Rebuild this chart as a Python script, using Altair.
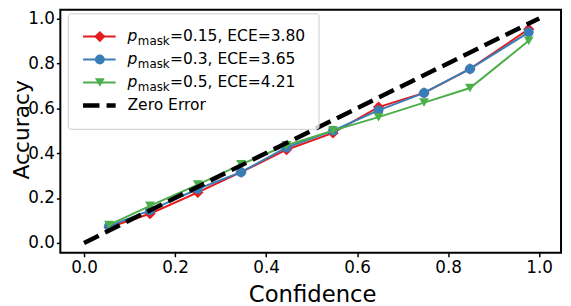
import altair as alt
import pandas as pd

# ---- data ----
conf = [0.055, 0.145, 0.25, 0.345, 0.445, 0.547, 0.647, 0.747, 0.848, 0.977]
acc_red = [0.07, 0.13, 0.225, 0.315, 0.415, 0.49, 0.605, 0.668, 0.775, 0.952]
acc_blue = [0.075, 0.145, 0.24, 0.315, 0.425, 0.50, 0.59, 0.668, 0.775, 0.938]
acc_green = [0.08, 0.165, 0.26, 0.35, 0.435, 0.50, 0.56, 0.625, 0.69, 0.90]
p_mask = ["0.15", "0.3", "0.5"]
ece = ["3.80", "3.65", "4.21"]
zero_conf = [0.0, 1.0]
zero_acc = [0.0, 1.0]
ticks = [0.0, 0.2, 0.4, 0.6, 0.8, 1.0]

colors = ["#e41a1c", "#377eb8", "#4daf4a"]
shapes = ["diamond", "circle", "triangle-down"]
sizes = [130, 100, 100]
FONT = "DejaVu Sans"

x_enc = alt.X(
    "conf:Q",
    scale=alt.Scale(domain=[-0.052, 1.048], nice=False, zero=False),
    axis=alt.Axis(
        values=ticks, format=".1f", title="Confidence", grid=False, domain=False,
        tickSize=4, tickWidth=1.5, tickColor="black",
        labelFontSize=17, labelColor="black", labelFont=FONT, labelPadding=3,
        titleFontSize=23, titleFont=FONT, titleColor="black", titleFontWeight="normal",
        titleX=255, titleY=49, titleBaseline="alphabetic", titleAlign="center",
    ),
)
y_enc = alt.Y(
    "acc:Q",
    scale=alt.Scale(domain=[-0.044, 1.038], nice=False, zero=False),
    axis=alt.Axis(
        values=ticks, format=".1f", title="Accuracy", grid=False, domain=False,
        tickSize=4, tickWidth=1.5, tickColor="black",
        labelFontSize=17, labelColor="black", labelFont=FONT, labelPadding=2,
        titleFontSize=22, titleFont=FONT, titleColor="black", titleFontWeight="normal",
        titleX=-32.5, titleY=121, titleAngle=-90, titleBaseline="alphabetic",
        titleAlign="center",
    ),
)

layers = []
for accs, col, shp, sz in zip([acc_red, acc_blue, acc_green], colors, shapes, sizes):
    df = pd.DataFrame({"conf": conf, "acc": accs})
    base = alt.Chart(df)
    layers.append(base.mark_line(color=col, strokeWidth=2).encode(x=x_enc, y=y_enc))
    layers.append(
        base.mark_point(shape=shp, filled=True, size=sz, color=col, opacity=1)
        .encode(x=x_enc, y=y_enc)
    )

zero_df = pd.DataFrame({"conf": zero_conf, "acc": zero_acc})
layers.append(
    alt.Chart(zero_df)
    .mark_line(color="black", strokeWidth=4.5, strokeDash=[16.6, 7.2], strokeCap="butt")
    .encode(x=x_enc, y=y_enc)
)

# ---- legend (drawn manually to allow the subscript) ----
one = alt.Data(values=[{"k": 0}])
layers.append(
    alt.Chart(one)
    .mark_rect(fill="white", fillOpacity=0.8, stroke="#cccccc", strokeWidth=1, cornerRadius=3)
    .encode(x=alt.value(8), x2=alt.value(262), y=alt.value(4), y2=alt.value(121))
)
row_y = [27, 50.3, 73.6, 96.9]
for i in range(3):
    yc = row_y[i]
    layers.append(
        alt.Chart(one).mark_rule(color=colors[i], strokeWidth=2)
        .encode(x=alt.value(23), x2=alt.value(56), y=alt.value(yc))
    )
    layers.append(
        alt.Chart(one).mark_point(shape=shapes[i], filled=True, size=sizes[i], color=colors[i], opacity=1)
        .encode(x=alt.value(40), y=alt.value(yc))
    )
    layers.append(
        alt.Chart(one).mark_text(text="p", fontStyle="italic", fontSize=15.7, font=FONT,
                                 align="left", baseline="alphabetic", color="black")
        .encode(x=alt.value(68), y=alt.value(yc + 5))
    )
    layers.append(
        alt.Chart(one).mark_text(text="mask", fontSize=12, font=FONT,
                                 align="left", baseline="alphabetic", color="black")
        .encode(x=alt.value(78.5), y=alt.value(yc + 8.5))
    )
    layers.append(
        alt.Chart(one).mark_text(text=f"={p_mask[i]}, ECE={ece[i]}", fontSize=15.7, font=FONT,
                                 align="left", baseline="alphabetic", color="black")
        .encode(x=alt.value(111), y=alt.value(yc + 5))
    )
yc = row_y[3]
layers.append(
    alt.Chart(one).mark_rule(color="black", strokeWidth=4.5, strokeDash=[16.6, 7.2], strokeCap="butt")
    .encode(x=alt.value(23), x2=alt.value(56), y=alt.value(yc))
)
layers.append(
    alt.Chart(one).mark_text(text="Zero Error", fontSize=15.7, font=FONT,
                             align="left", baseline="alphabetic", color="black")
    .encode(x=alt.value(68), y=alt.value(yc + 5))
)

chart = (
    alt.layer(*layers)
    .properties(
        width=507, height=246,
        autosize=alt.AutoSizeParams(type="none"),
        padding={"left": 53, "top": 0, "right": 2, "bottom": 52},
    )
    .configure(background="white", view=alt.ViewConfig(stroke="black", strokeWidth=2))
)

chart.save("out.html", embed_options={"renderer": "svg", "actions": False})
